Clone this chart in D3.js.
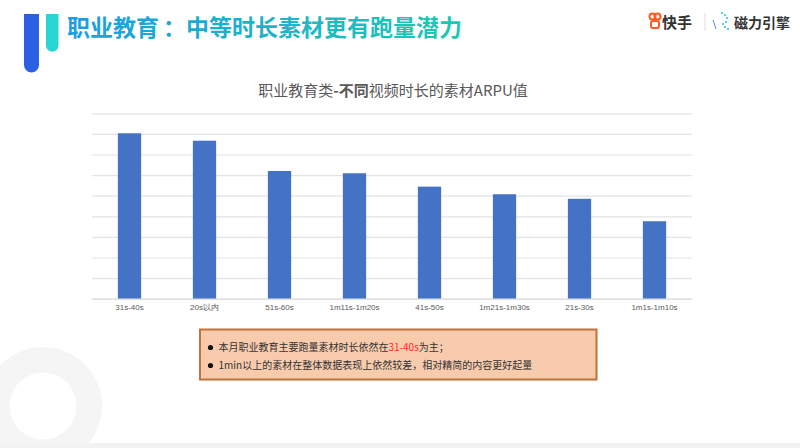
<!DOCTYPE html>
<html><head><meta charset="utf-8">
<script src="https://cdn.jsdelivr.net/npm/d3@7"></script>
<style>
html,body{margin:0;padding:0;background:#fff;}
svg{display:block;}
</style></head>
<body>
<svg id="c" width="800" height="448"></svg>
<script>
const pageTitleParts = ["职业教育", "：", "中等时长素材更有跑量潜力"];
const chartTitleParts = [["职业教育类", false], ["-不同", true], ["视频时长的素材ARPU值", false]];
const categories = ["31s-40s","20s以内","51s-60s","1m11s-1m20s","41s-50s","1m21s-1m30s","21s-30s","1m1s-1m10s"];
const values = [8.03, 7.67, 6.2, 6.09, 5.44, 5.07, 4.85, 3.76];
const yTicks = [0,1,2,3,4,5,6,7,8,9];
const notes = [
  [["本月职业教育主要跑量素材时长依然在", false], ["31-40s", true], ["为主；", false]],
  [["1min以上的素材在整体数据表现上依然较差，相对精简的内容更好起量", false]]
];

const svg = d3.select("#c");
const CJK = "'Noto Sans CJK SC','Noto Sans',sans-serif";

// background gear decoration
const gear = svg.append("g").attr("fill","#f6f5f6");
const gc = [43, 406];
gear.append("path")
  .attr("d", d3.arc()({innerRadius:33.5, outerRadius:59, startAngle:0, endAngle:2*Math.PI}))
  .attr("transform", `translate(${gc[0]},${gc[1]})`);
[-2.0, -2.45, -2.9, 2.95].forEach(a=>{
  gear.append("path")
    .attr("d", d3.arc()({innerRadius:50, outerRadius:72, startAngle:a-0.14, endAngle:a+0.14}))
    .attr("transform", `translate(${gc[0]},${gc[1]})`);
});
svg.append("rect").attr("x",0).attr("y",443).attr("width",800).attr("height",5).attr("fill","#f2f2f2");

// header decoration bars
svg.append("path").attr("d","M24,14 H39 V65 A7.5,7.5 0 0 1 24,65 Z").attr("fill","#2b60e3");
svg.append("path").attr("d","M46,14 H58.5 V45.5 A6.25,6.25 0 0 1 46,45.5 Z").attr("fill","#28d6d2");

// title gradient
const defs = svg.append("defs");
const lg = defs.append("linearGradient").attr("id","tg").attr("gradientUnits","userSpaceOnUse")
  .attr("x1",68).attr("x2",464).attr("y1",0).attr("y2",0);
lg.append("stop").attr("offset","0%").attr("stop-color","#1a9ee0");
lg.append("stop").attr("offset","100%").attr("stop-color","#1ec9b2");
const pt = svg.append("text").attr("x",67).attr("y",36).attr("font-family",CJK).attr("font-weight","bold")
  .attr("font-size",23).attr("fill","url(#tg)");
const titleDx = [0, 4, 0];
pageTitleParts.forEach((s,i)=>pt.append("tspan").attr("dx", titleDx[i]).text(s));

// logo
const logo = svg.append("g");
logo.append("circle").attr("cx",652.5).attr("cy",16.5).attr("r",3).attr("fill","none").attr("stroke","#ff5a1f").attr("stroke-width",2);
logo.append("circle").attr("cx",657.5).attr("cy",16.5).attr("r",3).attr("fill","none").attr("stroke","#ff5a1f").attr("stroke-width",2);
logo.append("rect").attr("x",651).attr("y",21).attr("width",8).attr("height",7).attr("rx",2).attr("fill","none").attr("stroke","#ff5a1f").attr("stroke-width",2);
logo.append("text").attr("x",662).attr("y",28).attr("font-family",CJK).attr("font-size",15).attr("font-weight","bold").attr("fill","#333").text("快手");
logo.append("line").attr("x1",705).attr("x2",705).attr("y1",13).attr("y2",31).attr("stroke","#ddd").attr("stroke-width",1);
logo.append("line").attr("x1",713).attr("x2",716).attr("y1",20).attr("y2",29).attr("stroke","#5b8be0").attr("stroke-width",1);
[[722,13],[725,15],[727,18],[726,22],[723,24],[725,27],[728,29]].forEach(([x,y])=>{
  logo.append("circle").attr("cx",x).attr("cy",y).attr("r",1.1).attr("fill","#2ec5d6");
});
logo.append("text").attr("x",734).attr("y",28).attr("font-family",CJK).attr("font-size",14).attr("font-weight","bold").attr("fill","#333").text("磁力引擎");

// chart title
const ct = svg.append("text").attr("x",393).attr("y",96).attr("text-anchor","middle")
  .attr("font-family",CJK).attr("font-size",15).attr("fill","#595959");
chartTitleParts.forEach(([t,b])=>ct.append("tspan").attr("font-weight", b?"bold":"normal").text(t));

// chart
const m = {left:92, right:692, top:113.3, bottom:298.7};
const x = d3.scaleBand().domain(categories).range([m.left, m.right]).paddingInner(0.69).paddingOuter(0.345);
const y = d3.scaleLinear().domain([0, 9]).range([m.bottom, m.top]);

const grid = svg.append("g").attr("transform",`translate(${m.left},0)`)
  .call(d3.axisLeft(y).tickValues(yTicks).tickSize(-(m.right-m.left)).tickFormat(""));
grid.select(".domain").remove();
grid.selectAll(".tick line").attr("stroke","#e3e3e3").attr("stroke-width",1.2);

svg.append("g").selectAll("rect").data(values).join("rect")
  .attr("x",(d,i)=>x(categories[i]))
  .attr("width",x.bandwidth())
  .attr("y",d=>y(d))
  .attr("height",d=>y(0)-y(d))
  .attr("fill","#4472c4");

const xa = svg.append("g").attr("transform",`translate(0,${m.bottom})`)
  .call(d3.axisBottom(x).tickSize(0).tickPadding(6));
xa.select(".domain").attr("stroke","#d9d9d9");
xa.selectAll("text").attr("font-family","'Liberation Sans Narrow','Liberation Sans',Arial,sans-serif")
  .attr("font-size",8).attr("fill","#595959");

// note box
svg.append("rect").attr("x",200).attr("y",329.5).attr("width",396.5).attr("height",50)
  .attr("fill","#f8cbad").attr("stroke","#c0723a").attr("stroke-width",2);
notes.forEach((line,i)=>{
  const yy = 351 + i*18;
  svg.append("circle").attr("cx",210.5).attr("cy",yy-3.5).attr("r",2.6).attr("fill","#111");
  const t = svg.append("text").attr("x",218.5).attr("y",yy).attr("font-family",CJK).attr("font-size",10).attr("fill","#333");
  line.forEach(([s,red])=>t.append("tspan").attr("fill", red?"#ff2a2a":"#333").text(s));
});
</script>
</body></html>
